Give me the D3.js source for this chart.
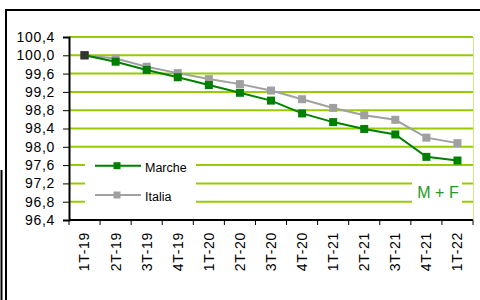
<!DOCTYPE html>
<html>
<head>
<meta charset="utf-8">
<script src="https://cdn.jsdelivr.net/npm/d3@7"></script>
<style>
  body { margin: 0; background: #fff; }
  text { font-family: "Liberation Sans", Arial, sans-serif; }
</style>
</head>
<body>
<div class="canvas"></div>
<script>
// data
const categories = ['1T-19', '2T-19', '3T-19', '4T-19', '1T-20', '2T-20', '3T-20',
    '4T-20', '1T-21', '2T-21', '3T-21', '4T-21', '1T-22'];
const marche = [100.0, 99.86, 99.68, 99.52, 99.35, 99.18, 99.01, 98.73, 98.54, 98.39, 98.27, 97.78, 97.70];
const italia = [100.0, 99.93, 99.75, 99.61, 99.48, 99.37, 99.23, 99.04, 98.85, 98.69, 98.59, 98.20, 98.08];
const yTicks = [96.4, 96.8, 97.2, 97.6, 98.0, 98.4, 98.8, 99.2, 99.6, 100.0, 100.4];

const svg = d3.select('.canvas')
    .append('svg')
    .attr('width', 480)
    .attr('height', 300);

// outer frame
svg.append('path')
    .attr('d', 'M6,300 V10 H480')
    .attr('fill', 'none')
    .attr('stroke', '#000')
    .attr('stroke-width', 2);
svg.append('line')
    .attr('x1', 1.5).attr('x2', 1.5)
    .attr('y1', 170).attr('y2', 300)
    .attr('stroke', '#000')
    .attr('stroke-width', 2);

const x = d3.scaleBand()
    .domain(categories)
    .range([69, 473])
    .padding(0);

const y = d3.scaleLinear()
    .domain([96.4, 100.4])
    .range([220, 37]);

const cx = d => x(d) + x.bandwidth() / 2;

// gridlines
svg.append('g')
    .selectAll('line')
    .data(yTicks.slice(1))
    .enter()
    .append('line')
    .attr('x1', 69)
    .attr('x2', 473)
    .attr('y1', d => y(d))
    .attr('y2', d => y(d))
    .attr('stroke', '#99cc00')
    .attr('stroke-width', 2);

// right edge of plot
svg.append('line')
    .attr('x1', 473.5).attr('x2', 473.5)
    .attr('y1', y(100.4)).attr('y2', y(96.4))
    .attr('stroke', '#cce888')
    .attr('stroke-width', 1);

// white boxes behind legend and label
svg.append('rect')
    .attr('x', 85).attr('y', 154)
    .attr('width', 111).attr('height', 56)
    .attr('fill', '#fff');
svg.append('rect')
    .attr('x', 412).attr('y', 175)
    .attr('width', 50).attr('height', 36)
    .attr('fill', '#fff');

const series = [
    { name: 'Italia', values: italia, color: '#a0a0a0' },
    { name: 'Marche', values: marche, color: '#008000' }
];

const line = d3.line()
    .x((d, i) => cx(categories[i]))
    .y(d => y(d));

series.forEach(s => {
    svg.append('path')
        .datum(s.values)
        .attr('d', line)
        .attr('fill', 'none')
        .attr('stroke', s.color)
        .attr('stroke-width', 2);

    svg.append('g')
        .selectAll('rect')
        .data(s.values)
        .enter()
        .append('rect')
        .attr('x', (d, i) => cx(categories[i]) - 4)
        .attr('y', d => y(d) - 4)
        .attr('width', 8)
        .attr('height', 8)
        .attr('fill', (d, i) => i === 0 ? '#333' : s.color);
});

// axes
const yAxis = d3.axisLeft(y)
    .tickValues(yTicks)
    .tickSize(6)
    .tickPadding(8)
    .tickFormat(d => d3.format('.1f')(d).replace('.', ','));

const xAxis = d3.axisBottom(x)
    .tickSize(0);

const yAxisGroup = svg.append('g')
    .attr('transform', 'translate(69,0)')
    .call(yAxis);

const xAxisGroup = svg.append('g')
    .attr('transform', `translate(0,${y(96.4)})`)
    .call(xAxis);

// tick marks on category boundaries
xAxisGroup.selectAll('.bound')
    .data(d3.range(categories.length + 1))
    .enter()
    .append('line')
    .attr('x1', i => 69 + i * x.bandwidth())
    .attr('x2', i => 69 + i * x.bandwidth())
    .attr('y1', 0)
    .attr('y2', 5)
    .attr('stroke', '#000');

[yAxisGroup, xAxisGroup].forEach(g => {
    g.select('.domain').attr('stroke', '#000').attr('stroke-width', 2);
    g.selectAll('text')
        .attr('font-size', 14)
        .attr('letter-spacing', 0.7)
        .attr('font-family', '"Liberation Sans", Arial, sans-serif')
        .attr('fill', '#000');
});
xAxisGroup.select('.domain').attr('d', 'M69,0H473');

xAxisGroup.selectAll('.tick text')
    .attr('transform', 'rotate(-90)')
    .attr('text-anchor', 'end')
    .attr('x', -12)
    .attr('y', 0)
    .attr('dy', '0.35em');

// legend
const legend = svg.append('g');
[
    { name: 'Marche', color: '#008000', ly: 165.7 },
    { name: 'Italia', color: '#a0a0a0', ly: 195 }
].forEach(s => {
    legend.append('line')
        .attr('x1', 95).attr('x2', 141)
        .attr('y1', s.ly).attr('y2', s.ly)
        .attr('stroke', s.color)
        .attr('stroke-width', 2);
    legend.append('rect')
        .attr('x', 113.5).attr('y', s.ly - 3.5)
        .attr('width', 7).attr('height', 7)
        .attr('fill', s.color);
    legend.append('text')
        .attr('x', 145)
        .attr('y', s.ly + 2)
        .attr('dy', '0.35em')
        .attr('font-size', 12.5)
        .attr('fill', '#000')
        .text(s.name);
});

svg.append('text')
    .attr('x', 438)
    .attr('y', 192)
    .attr('dy', '0.35em')
    .attr('text-anchor', 'middle')
    .attr('font-size', 16)
    .attr('fill', '#1e9a1e')
    .text('M + F');
</script>
</body>
</html>
